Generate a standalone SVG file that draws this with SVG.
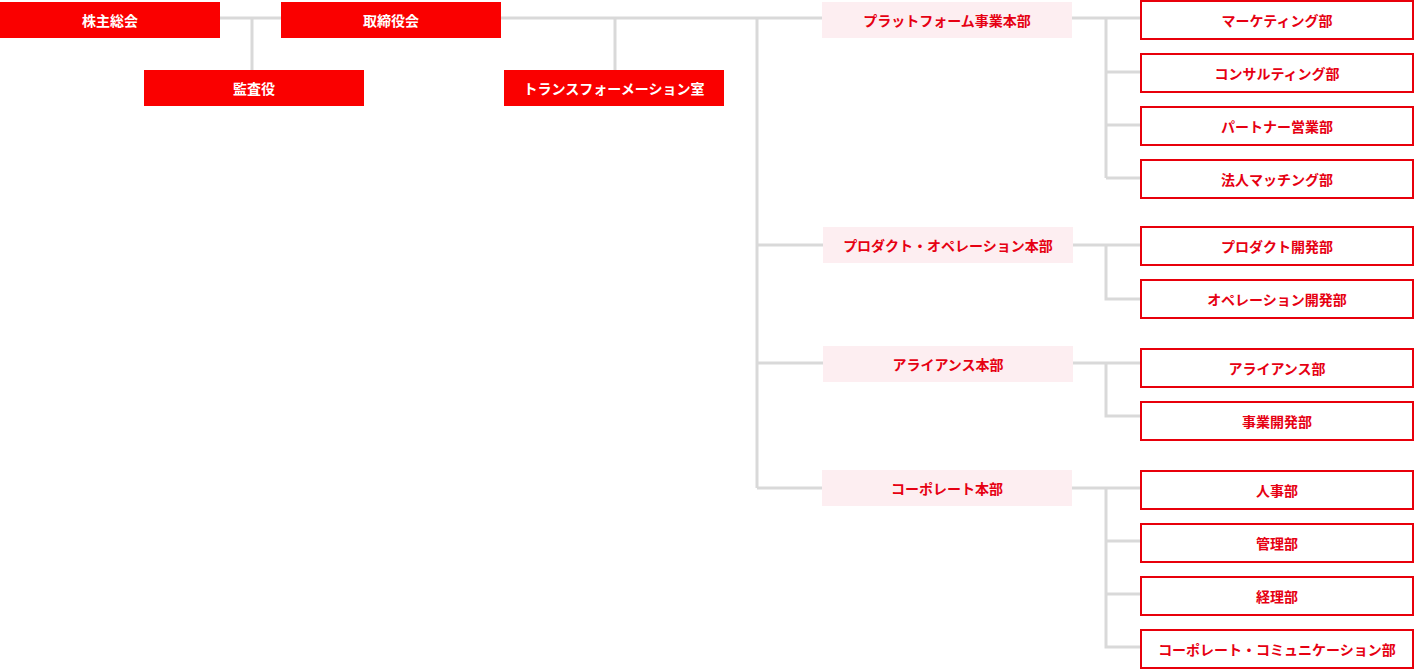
<svg xmlns="http://www.w3.org/2000/svg" width="1414" height="669" viewBox="0 0 1414 669">
<style>
text{font-family:"Noto Sans CJK JP","Noto Sans",sans-serif;font-weight:bold;font-size:14px;text-anchor:middle;dominant-baseline:central}
.r rect{fill:#fa0000}.r text{fill:#fff}
.d rect{fill:#fdeef1}.d text{fill:#e60012}
.b rect{fill:#fff;stroke:#e8000b;stroke-width:2}.b text{fill:#e60012}
#conn path{fill:none;stroke:#d9d9d9;stroke-width:3}
</style>
<rect width="1414" height="669" fill="#fff"/>
<g id="conn">
<path d="M220 18H822M252 18V70M615 18V70M757 18V488M757 245H823M757 363H823M757 488H822"/>
<path d="M1072 18H1140M1106 18V178M1106 72H1140M1106 125H1140M1106 178H1140"/>
<path d="M1073 245H1140M1106 245V299H1140"/>
<path d="M1073 363H1140M1106 363V416H1140"/>
<path d="M1072 488H1140M1106 488V647H1140M1106 541H1140M1106 594H1140"/>
</g>
<g id="n1" class="r"><rect x="0" y="2" width="220" height="36"/><text x="110" y="20">株主総会</text></g>
<g id="n2" class="r"><rect x="281" y="2" width="220" height="36"/><text x="391" y="20">取締役会</text></g>
<g id="n3" class="r"><rect x="144" y="70" width="220" height="36"/><text x="254" y="88">監査役</text></g>
<g id="n4" class="r"><rect x="504" y="70" width="220" height="36"/><text x="614" y="88">トランスフォーメーション室</text></g>
<g id="d1" class="d"><rect x="822" y="2" width="250" height="36"/><text x="947" y="20">プラットフォーム事業本部</text></g>
<g id="d2" class="d"><rect x="823" y="227" width="250" height="36"/><text x="948" y="245">プロダクト・オペレーション本部</text></g>
<g id="d3" class="d"><rect x="823" y="346" width="250" height="36"/><text x="948" y="364">アライアンス本部</text></g>
<g id="d4" class="d"><rect x="822" y="470" width="250" height="36"/><text x="947" y="488">コーポレート本部</text></g>
<g id="b1" class="b"><rect x="1141" y="1" width="272" height="38"/><text x="1277" y="20">マーケティング部</text></g>
<g id="b2" class="b"><rect x="1141" y="54" width="272" height="38"/><text x="1277" y="73">コンサルティング部</text></g>
<g id="b3" class="b"><rect x="1141" y="107" width="272" height="38"/><text x="1277" y="126">パートナー営業部</text></g>
<g id="b4" class="b"><rect x="1141" y="160" width="272" height="38"/><text x="1277" y="179">法人マッチング部</text></g>
<g id="b5" class="b"><rect x="1141" y="227" width="272" height="38"/><text x="1277" y="246">プロダクト開発部</text></g>
<g id="b6" class="b"><rect x="1141" y="280" width="272" height="38"/><text x="1277" y="299">オペレーション開発部</text></g>
<g id="b7" class="b"><rect x="1141" y="349" width="272" height="38"/><text x="1277" y="368">アライアンス部</text></g>
<g id="b8" class="b"><rect x="1141" y="402" width="272" height="38"/><text x="1277" y="421">事業開発部</text></g>
<g id="b9" class="b"><rect x="1141" y="471" width="272" height="38"/><text x="1277" y="490">人事部</text></g>
<g id="b10" class="b"><rect x="1141" y="524" width="272" height="38"/><text x="1277" y="543">管理部</text></g>
<g id="b11" class="b"><rect x="1141" y="577" width="272" height="38"/><text x="1277" y="596">経理部</text></g>
<g id="b12" class="b"><rect x="1141" y="630" width="272" height="38"/><text x="1277" y="649">コーポレート・コミュニケーション部</text></g>
</svg>
